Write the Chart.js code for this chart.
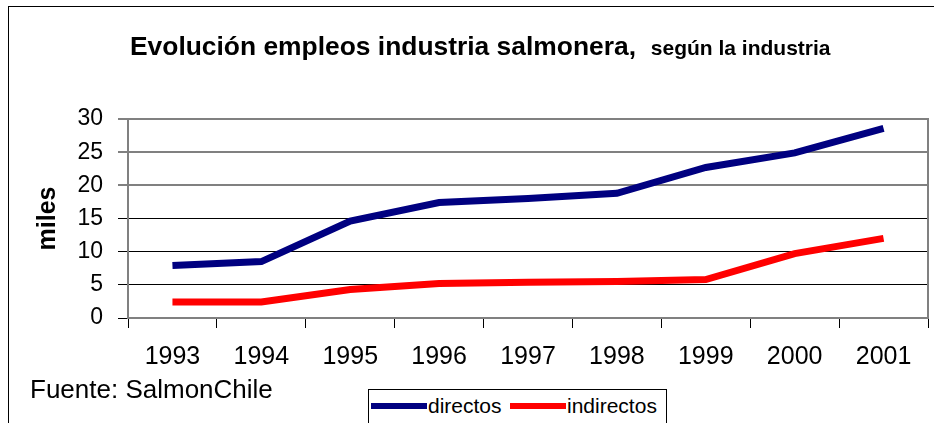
<!DOCTYPE html>
<html>
<head>
<meta charset="utf-8">
<script src="https://cdn.jsdelivr.net/npm/chart.js@4/dist/chart.umd.min.js"></script>
<style>
  html, body { margin: 0; padding: 0; background: #fff; overflow: hidden; }
  body { width: 934px; height: 423px; position: relative; font-family: "Liberation Sans", Arial, sans-serif; color: #000; }
  #frame { position: absolute; left: 8px; top: 6px; width: 960px; height: 460px; border-left: 1px solid #000; border-top: 1px solid #000; }
  #myChart { position: absolute; left: 0; top: 0; }
  #title { position: absolute; left: 130px; top: 33px; font-weight: bold; font-size: 26.4px; line-height: 1; white-space: nowrap; }
  #title span { font-size: 21px; padding-left: 9px; }
  #source { position: absolute; left: 30px; top: 376px; font-size: 26px; line-height: 1; white-space: nowrap; }
  #legend { position: absolute; left: 368px; top: 389px; width: 297px; height: 60px; border: 1px solid #000; background: #fff; }
  .item { position: absolute; top: 4px; font-size: 21px; line-height: 24px; white-space: nowrap; }
  .swatch { display: inline-block; width: 56px; height: 6px; vertical-align: middle; margin-right: 1px; position: relative; top: -1px; }
</style>
</head>
<body>
<div id="frame"></div>
<canvas id="myChart" width="934" height="423"></canvas>
<div id="title">Evolución empleos industria salmonera,<span> según la industria</span></div>
<div id="source">Fuente: SalmonChile</div>
<div id="legend"></div>
<script>
const years = ["1993", "1994", "1995", "1996", "1997", "1998", "1999", "2000", "2001"];
const directos = [7.9, 8.5, 14.6, 17.4, 18.0, 18.8, 22.7, 24.9, 28.6];
const indirectos = [2.4, 2.4, 4.3, 5.2, 5.4, 5.5, 5.8, 9.7, 12.0];
const seriesNames = ["directos", "indirectos"];
const seriesColors = ["#000080", "#FF0000"];

const fontFamily = '"Liberation Sans", Arial, sans-serif';

const plotBorder = {
    id: "plotBorder",
    beforeDatasetsDraw(chart) {
        const a = chart.chartArea;
        const ctx = chart.ctx;
        ctx.save();
        ctx.strokeStyle = "#808080";
        ctx.lineWidth = 2;
        ctx.strokeRect(a.left, a.top, a.right - a.left, a.bottom - a.top);
        ctx.restore();
    }
};

const data = {
    labels: years,
    datasets: [{
        label: seriesNames[0],
        data: directos,
        borderColor: seriesColors[0],
        backgroundColor: seriesColors[0],
        borderWidth: 7,
        pointRadius: 0,
        tension: 0,
        borderCapStyle: "butt"
    }, {
        label: seriesNames[1],
        data: indirectos,
        borderColor: seriesColors[1],
        backgroundColor: seriesColors[1],
        borderWidth: 7,
        pointRadius: 0,
        tension: 0,
        borderCapStyle: "butt"
    }]
};

const config = {
    type: "line",
    data: data,
    options: {
        responsive: false,
        animation: false,
        devicePixelRatio: 1,
        layout: { padding: { top: 119, right: 6, bottom: 0, left: 0 } },
        plugins: {
            legend: { display: false },
            title: { display: false },
            tooltip: { enabled: false }
        },
        scales: {
            x: {
                offset: true,
                afterFit: (s) => { s.height = 105; },
                grid: {
                    offset: true,
                    drawOnChartArea: false,
                    drawTicks: true,
                    tickLength: 10,
                    color: "#000"
                },
                border: { display: false },
                ticks: {
                    color: "#000",
                    font: { family: fontFamily, size: 25 },
                    padding: 14,
                    maxRotation: 0,
                    autoSkip: false
                }
            },
            y: {
                min: 0,
                max: 30,
                afterFit: (s) => { s.width = 128; },
                grid: {
                    tickLength: 10,
                    color: (c) => c.tick && c.tick.value >= 20 ? "#808080" : "#000",
                    lineWidth: (c) => c.tick && c.tick.value >= 20 ? 2 : 1
                },
                border: { display: false },
                ticks: {
                    stepSize: 5,
                    color: "#000",
                    font: { family: fontFamily, size: 23 },
                    padding: 15
                },
                title: {
                    display: true,
                    text: "miles",
                    color: "#000",
                    font: { family: fontFamily, size: 25, weight: "bold" },
                    padding: { top: 33, bottom: 0 }
                }
            }
        }
    },
    plugins: [plotBorder]
};

const myChart = new Chart(document.getElementById("myChart"), config);

// legend built from the datasets
const legend = document.getElementById("legend");
const legendLeft = [2, 141];
data.datasets.forEach((ds, i) => {
    const item = document.createElement("div");
    item.className = "item";
    item.style.left = legendLeft[i] + "px";
    item.innerHTML = '<span class="swatch" style="background:' + ds.borderColor + '"></span>' + ds.label;
    legend.appendChild(item);
});
</script>
</body>
</html>
